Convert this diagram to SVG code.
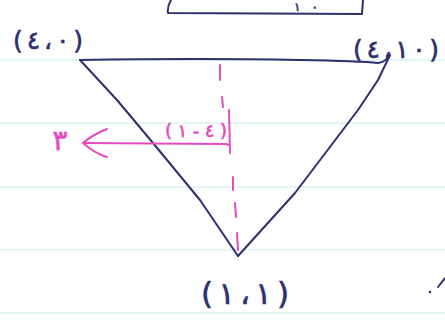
<svg xmlns="http://www.w3.org/2000/svg" width="445" height="327" viewBox="0 0 445 327">
<style>
.paper{stroke:#dcf1f2;stroke-width:1.6;fill:none}
.ink{stroke:#2c2f70;stroke-width:2;fill:none;stroke-linecap:round;stroke-linejoin:round}
.pink{stroke:#e24cbd;stroke-width:2;fill:none;stroke-linecap:round;stroke-linejoin:round}
text{font-family:"DejaVu Sans",sans-serif;text-anchor:middle;direction:ltr;unicode-bidi:bidi-override;stroke-width:0.6}
.lbl{fill:#2c2f70;stroke:#2c2f70}
.plbl{fill:#e24cbd;stroke:#e24cbd}
</style>
<rect width="445" height="327" fill="#ffffff"/>
<g id="paper-lines">
<line class="paper" x1="0" y1="60" x2="445" y2="60"/>
<line class="paper" x1="0" y1="123" x2="445" y2="123"/>
<line class="paper" x1="0" y1="187" x2="445" y2="187"/>
<line class="paper" x1="0" y1="250" x2="445" y2="250"/>
<line class="paper" x1="0" y1="313" x2="445" y2="313"/>
</g>
<g id="top-box">
<path class="ink" d="M171,0 Q167,7 168,13 L362,14 L363,0"/>
<text class="lbl" x="306" y="11" font-size="12" textLength="24" direction="ltr" unicode-bidi="bidi-override">١٠</text>
</g>
<g id="connectors">
<path class="ink" d="M80,60 Q200,58 300,60 Q360,61 378,63 Q386,62 390,55"/>
<path class="ink" d="M80,60 L117,100 L153,143 L200,200 L238,256"/>
<path class="ink" d="M390,55 L378,80 L358,110 L295,193 L238,256"/>
<path class="pink" d="M220,65 L220,80 M222,97 L223,107 M229,110 L230,153 M233,177 L233,190 M235,203 L236,217 M237,233 L238,250"/>
<path class="pink" d="M229,145 L226,144 L83,143"/>
<path class="pink" d="M107,129 Q92,135 83,143 Q94,153 107,157"/>
</g>
<g id="node-top-left">
<text class="lbl" x="48" y="49" font-size="25" textLength="70" direction="ltr" unicode-bidi="bidi-override">(٤،٠)</text>
</g>
<g id="node-top-right">
<text class="lbl" x="396" y="58" font-size="25" textLength="86" direction="ltr" unicode-bidi="bidi-override">(٤،١٠)</text>
</g>
<g id="node-bottom">
<text class="lbl" x="245" y="304" font-size="31" textLength="88" direction="ltr" unicode-bidi="bidi-override">(١،١)</text>
</g>
<g id="label-median">
<text class="plbl" x="196" y="137" font-size="18" textLength="62" direction="ltr" unicode-bidi="bidi-override">(١-٤)</text>
</g>
<g id="label-arrow">
<text class="plbl" x="60" y="150" font-size="28" direction="ltr" unicode-bidi="bidi-override">٣</text>
</g>
<g id="margin-mark">
<circle cx="430" cy="292" r="1.2" fill="#2c2f70"/>
<path class="ink" stroke-width="1.5" d="M438,287 L445,278"/>
</g>
</svg>
